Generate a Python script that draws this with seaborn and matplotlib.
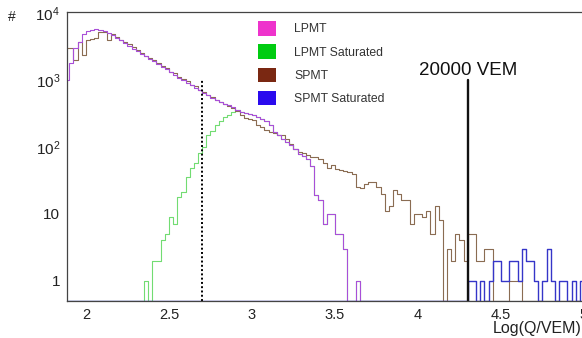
import numpy as np
import matplotlib
matplotlib.use('Agg')
import matplotlib.pyplot as plt
import seaborn as sns
from matplotlib.patches import Patch
from matplotlib.ticker import MultipleLocator, LogLocator, FuncFormatter, NullFormatter

# Histogram binning: 125 bins of 0.025 in Log(Q/VEM), starting at 1.875
BIN_START = 1.875
BIN_WIDTH = 0.025

lpmt = [
    1000, 1800, 3000, 3700, 4800, 5300, 5600, 5700, 5600, 5400,
    5000, 4600, 4200, 3900, 3500, 3200, 2900, 2650, 2450, 2250,
    2050, 1900, 1720, 1560, 1430, 1300, 1190, 1080, 990, 900,
    830, 760, 700, 640, 590, 545, 505, 470, 440, 415,
    390, 360, 330, 320, 310, 300, 280, 260, 240, 210,
    165, 150, 130, 120, 105, 92, 78, 74, 66, 52,
    19, 16, 7, 10, 10, 5, 5, 3, 0, 0,
    1, 0, 0, 0, 0, 0, 0, 0, 0, 0,
    0, 0, 0, 0, 0, 0, 0, 0, 0, 0,
    0, 0, 0, 0, 0, 0, 0, 0, 0, 0,
    0, 0, 0, 0, 0, 0, 0, 0, 0, 0,
    0, 0, 0, 0, 0, 0, 0, 0, 0, 0,
    0, 0, 0, 0, 0,
]

lpmt_saturated = [
    0, 0, 0, 0, 0, 0, 0, 0, 0, 0,
    0, 0, 0, 0, 0, 0, 0, 0, 0, 1,
    0, 2, 2, 4, 5, 9, 7, 18, 21, 36,
    48, 58, 80, 100, 150, 170, 215, 240, 275, 300,
    330, 350, 330, 320, 310, 300, 280, 260, 240, 210,
    165, 150, 130, 120, 105, 92, 78, 74, 66, 52,
    19, 16, 7, 10, 10, 5, 5, 3, 0, 0,
    1, 0, 0, 0, 0, 0, 0, 0, 0, 0,
    0, 0, 0, 0, 0, 0, 0, 0, 0, 0,
    0, 0, 0, 0, 0, 0, 0, 0, 0, 0,
    0, 0, 0, 0, 0, 0, 0, 0, 0, 0,
    0, 0, 0, 0, 0, 0, 0, 0, 0, 0,
    0, 0, 0, 0, 0,
]

spmt = [
    3000, 3000, 1970, 3700, 2360, 4000, 4100, 4200, 5200, 5200,
    3900, 4900, 4300, 4000, 3700, 3400, 3100, 2750, 2550, 2300,
    2150, 1950, 1800, 1600, 1500, 1330, 1250, 1100, 1030, 950,
    850, 820, 710, 670, 600, 560, 500, 465, 430, 410,
    380, 340, 300, 270, 260, 250, 213, 195, 180, 168,
    160, 150, 150, 132, 110, 92, 84, 80, 75, 71,
    70, 65, 58, 48, 54, 47, 45, 43, 42, 40,
    25, 24, 28, 30, 30, 25, 20, 11, 13, 23,
    20, 16, 16, 7, 10, 10, 9, 11, 5, 13,
    8, 0, 3, 2, 5, 4, 2, 5, 5, 2,
    2, 3, 3, 0, 0, 0, 0, 1, 1, 1,
    0, 0, 0, 0, 0, 0, 0, 0, 0, 0,
    0, 0, 0, 0, 0,
]

spmt_saturated = [
    0, 0, 0, 0, 0, 0, 0, 0, 0, 0,
    0, 0, 0, 0, 0, 0, 0, 0, 0, 0,
    0, 0, 0, 0, 0, 0, 0, 0, 0, 0,
    0, 0, 0, 0, 0, 0, 0, 0, 0, 0,
    0, 0, 0, 0, 0, 0, 0, 0, 0, 0,
    0, 0, 0, 0, 0, 0, 0, 0, 0, 0,
    0, 0, 0, 0, 0, 0, 0, 0, 0, 0,
    0, 0, 0, 0, 0, 0, 0, 0, 0, 0,
    0, 0, 0, 0, 0, 0, 0, 0, 0, 0,
    0, 0, 0, 0, 0, 0, 0, 1, 1, 0,
    1, 0, 1, 2, 2, 1, 1, 2, 2, 1,
    3, 2, 2, 1, 0, 1, 3, 1, 0, 1,
    1, 0, 1, 0, 1,
]

legend_labels = ['LPMT', 'LPMT Saturated', 'SPMT', 'SPMT Saturated']
legend_colors = ['#ee33cc', '#00cc11', '#7a2812', '#2a0aee']

dotted_cut = np.log10(500)      # dotted line
vem_cut = np.log10(20000)       # 20000 VEM line
Y_MIN, Y_MAX = 0.5, 1.03e4

sns.set_theme(style='white')
plt.rcParams['font.family'] = ['Liberation Sans', 'DejaVu Sans']
plt.rcParams['mathtext.fontset'] = 'custom'
plt.rcParams['mathtext.rm'] = 'Liberation Sans'
plt.rcParams['mathtext.default'] = 'rm'

edges = BIN_START + BIN_WIDTH * np.arange(len(lpmt) + 1)

fig = plt.figure(figsize=(5.82, 3.38), dpi=100)
fig.patch.set_facecolor('white')
ax = fig.add_axes([67 / 582, 37 / 338, 518 / 582, 289 / 338])
ax.set_yscale('log')


def draw_hist(counts, color, lw=0.8):
    # ROOT style: empty bins sit on the bottom frame
    y = np.asarray(counts, dtype=float)
    y = np.where(y > 0, y, Y_MIN)
    y = np.append(y, y[-1])
    sns.lineplot(x=edges, y=y, drawstyle='steps-post', color=color, lw=lw,
                 estimator=None, sort=False, ax=ax)


draw_hist(lpmt_saturated, '#72dc72')
draw_hist(spmt, '#8a6c52')
draw_hist(lpmt, '#a94fd8')
draw_hist(spmt_saturated, '#3535c8', lw=1.0)

# reference lines
ax.plot([dotted_cut, dotted_cut], [Y_MIN, 1000], color='black', lw=1.4,
        linestyle=(0, (1, 1.2)))
ax.plot([vem_cut, vem_cut], [Y_MIN, 1000], color='#111111', lw=1.7)
ax.text(vem_cut, 1360, '20000 VEM', ha='center', va='center', fontsize=13.5,
        color='#111111')

ax.set_xlim(1.886, 5.006)
ax.set_ylim(Y_MIN, Y_MAX)

ax.xaxis.set_major_locator(MultipleLocator(0.5))
ax.xaxis.set_minor_locator(MultipleLocator(0.1))
ax.xaxis.set_major_formatter(FuncFormatter(lambda v, p: f'{v:g}'))


def ylab(v, p):
    if v < 0.99:
        return ''
    if v < 1.5:
        return '1'
    if v < 15:
        return '10'
    return f'$10^{{{int(round(np.log10(v)))}}}$'


ax.yaxis.set_major_locator(LogLocator(base=10))
ax.yaxis.set_major_formatter(FuncFormatter(ylab))
ax.yaxis.set_minor_locator(LogLocator(base=10, subs=np.arange(2, 10)))
ax.yaxis.set_minor_formatter(NullFormatter())

ax.tick_params(which='both', direction='in', top=False, right=False,
               color='#555555', labelcolor='#222222', width=0.9)
ax.tick_params(axis='x', which='major', length=6, labelsize=10.5, pad=5)
ax.tick_params(axis='x', which='minor', length=3)
ax.tick_params(axis='y', which='major', length=11, labelsize=11, pad=5)
ax.tick_params(axis='y', which='minor', length=5.5)

for side in ['top', 'left', 'bottom', 'right']:
    ax.spines[side].set_color('#444444')
    ax.spines[side].set_linewidth(0.9)

ax.set_xlabel('')
ax.set_ylabel('')
fig.text(12 / 582, 1 - 17 / 338, '#', ha='center', va='center', fontsize=10,
         color='#222222')
fig.text(0.999, 1 - 328 / 338, 'Log(Q/VEM)', ha='right', va='center',
         fontsize=11.5, color='#222222')

handles = [Patch(facecolor=c, edgecolor='none') for c in legend_colors]
ax.legend(handles, legend_labels, loc='upper left',
          bbox_to_anchor=(258 / 582, 1 - 21 / 338),
          bbox_transform=fig.transFigure, frameon=False, fontsize=8.8,
          handlelength=1.45, handleheight=1.45, handletextpad=1.5,
          labelspacing=0.72, borderpad=0, borderaxespad=0,
          labelcolor='#333333')

fig.savefig('out.png', dpi=100, facecolor='white')
